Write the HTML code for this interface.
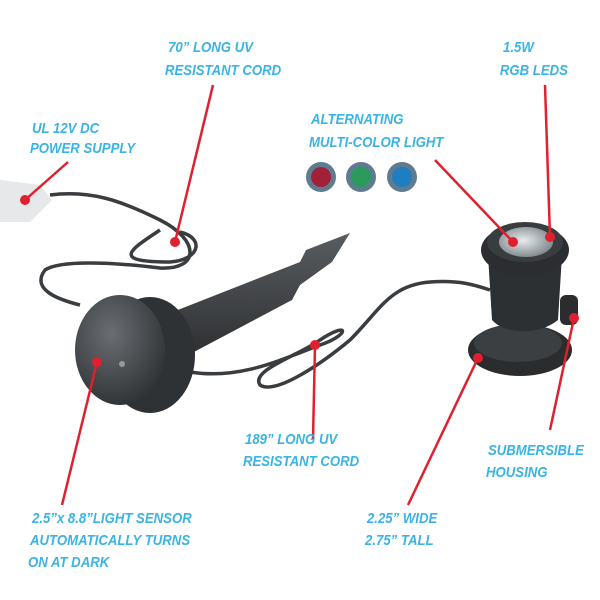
<!DOCTYPE html>
<html><head><meta charset="utf-8"><style>
html,body{margin:0;padding:0;background:#fff;}
svg{display:block}
text{font-family:"Liberation Sans",sans-serif;font-style:italic;font-weight:bold;font-size:15px;fill:#3ab4e4;}
</style></head><body>
<svg width="600" height="600" viewBox="0 0 600 600" xmlns="http://www.w3.org/2000/svg">
<defs>
<radialGradient id="g1" cx="40%" cy="35%" r="70%"><stop offset="0" stop-color="#6a6e72"/><stop offset="1" stop-color="#2e3134"/></radialGradient>
<linearGradient id="st" x1="0" y1="0" x2="0" y2="1"><stop offset="0" stop-color="#5a5d60"/><stop offset="1" stop-color="#2b2d2f"/></linearGradient>
<radialGradient id="dome" cx="45%" cy="45%" r="60%"><stop offset="0" stop-color="#e8ecee"/><stop offset="1" stop-color="#7a8488"/></radialGradient>
</defs>
<!-- plug -->
<path d="M0 180 L40 185 L52 200 L30 222 L0 222 Z" fill="#e6e8ea"/>
<!-- cords -->
<g fill="none" stroke="#3a3d40" stroke-width="3.5">
<path d="M50 195 C90 190 120 200 160 220 C200 240 200 270 160 268 C110 262 60 260 45 270 C30 290 60 300 80 305"/>
<path d="M160 230 C130 250 110 262 170 262 C200 260 205 238 180 232"/>
<path d="M190 372 C240 380 280 360 320 345 C350 335 350 320 320 340 C300 355 250 370 260 385 C275 395 320 365 350 340 C380 310 390 285 430 282 C460 280 475 285 490 290"/>
</g>
<!-- stake -->
<polygon points="165,315 300,262 306,250 350,233 332,262 300,285 292,300 175,362" fill="url(#st)"/>
<!-- sensor rim -->
<ellipse cx="150" cy="355" rx="45" ry="58" fill="#2f3235"/>
<ellipse cx="120" cy="350" rx="45" ry="55" fill="url(#g1)"/>
<ellipse cx="122" cy="364" rx="3" ry="3" fill="#999"/>
<!-- light base -->
<ellipse cx="520" cy="350" rx="52" ry="26" fill="#2a2c2e"/>
<ellipse cx="518" cy="343" rx="44" ry="19" fill="#3c3f42"/>
<path d="M488 255 L562 255 L558 320 C540 335 505 335 492 320 Z" fill="#2d3033"/>
<rect x="560" y="295" width="18" height="30" rx="6" fill="#2a2c2e"/>
<ellipse cx="525" cy="250" rx="44" ry="26" fill="#2b2d30"/>
<ellipse cx="525" cy="242" rx="38" ry="20" fill="#3a3d40"/>
<ellipse cx="526" cy="242" rx="27" ry="15" fill="url(#dome)"/>
<!-- color dots -->
<circle cx="321" cy="177" r="15" fill="#5f7b90"/><circle cx="321" cy="177" r="10" fill="#a3203a"/>
<circle cx="361" cy="177" r="15" fill="#5f7b90"/><circle cx="361" cy="177" r="10" fill="#2a9b5a"/>
<circle cx="402" cy="177" r="15" fill="#5f7b90"/><circle cx="402" cy="177" r="10" fill="#1f7ec0"/>
<!-- leader lines -->
<g stroke="#e0202e" stroke-width="2.5" fill="none">
<line x1="213" y1="85" x2="175" y2="242"/>
<line x1="68" y1="162" x2="25" y2="200"/>
<line x1="435" y1="160" x2="513" y2="242"/>
<line x1="545" y1="85" x2="550" y2="237"/>
<line x1="313" y1="440" x2="315" y2="345"/>
<line x1="550" y1="430" x2="574" y2="318"/>
<line x1="408" y1="505" x2="478" y2="358"/>
<line x1="62" y1="505" x2="97" y2="362"/>
</g>
<g fill="#e0202e">
<circle cx="175" cy="242" r="5"/><circle cx="25" cy="200" r="5"/><circle cx="513" cy="242" r="5"/>
<circle cx="550" cy="237" r="5"/><circle cx="315" cy="345" r="5"/><circle cx="574" cy="318" r="5"/>
<circle cx="478" cy="358" r="5"/><circle cx="97" cy="362" r="5"/>
</g>
<!-- labels -->
<g transform="scale(0.88 1)">
<text x="191" y="52">70” LONG UV</text>
<text x="187.5" y="75">RESISTANT CORD</text>
<text x="571.6" y="52">1.5W</text>
<text x="568" y="75">RGB LEDS</text>
<text x="36.4" y="133">UL 12V DC</text>
<text x="34.1" y="153">POWER SUPPLY</text>
<text x="353.4" y="124">ALTERNATING</text>
<text x="351.1" y="147">MULTI-COLOR LIGHT</text>
<text x="278.4" y="444">189” LONG UV</text>
<text x="276.1" y="466">RESISTANT CORD</text>
<text x="554.5" y="455">SUBMERSIBLE</text>
<text x="552.3" y="477">HOUSING</text>
<text x="417" y="523">2.25” WIDE</text>
<text x="414.8" y="545">2.75” TALL</text>
<text x="36.4" y="523">2.5”x 8.8”LIGHT SENSOR</text>
<text x="34.1" y="545">AUTOMATICALLY TURNS</text>
<text x="31.8" y="567">ON AT DARK</text>
</g>
</svg>
</body></html>
